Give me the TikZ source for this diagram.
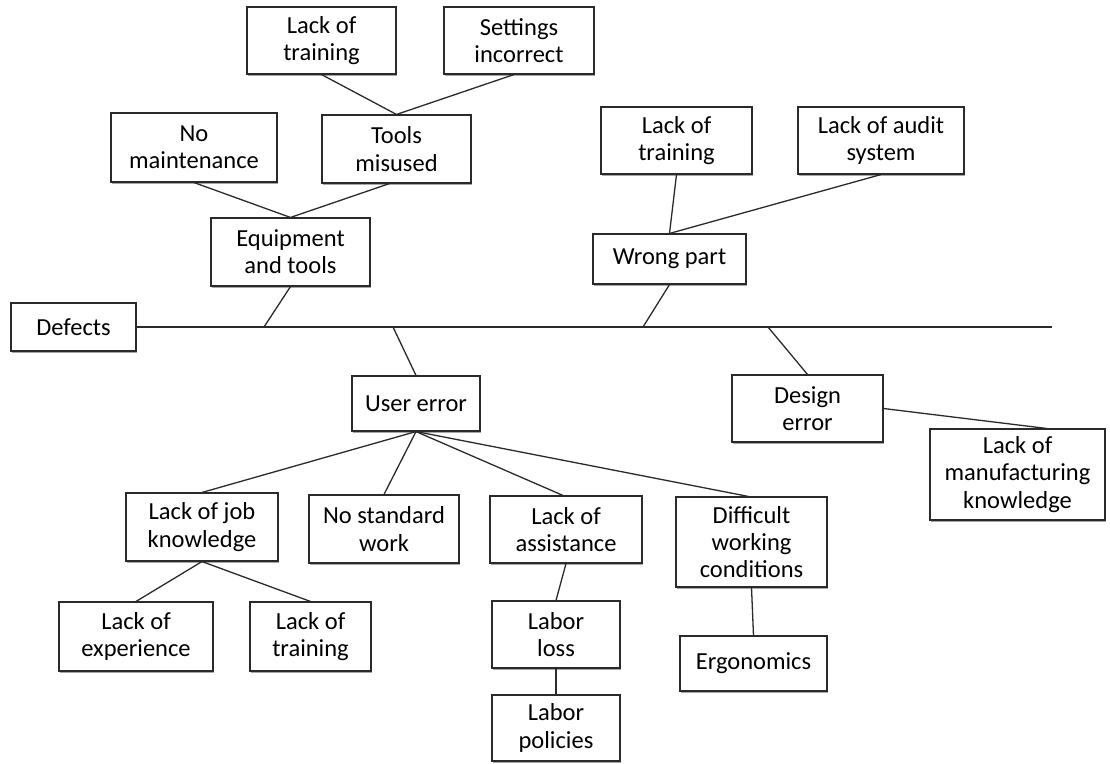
\documentclass[tikz,border=0pt]{standalone}
\usepackage{fontspec}
\setmainfont{Carlito}
\usetikzlibrary{shadows}
\definecolor{ink}{HTML}{2A2A2A}
\tikzset{
  box/.style={draw=ink, line width=1.1pt, fill=white, align=center, inner sep=1pt,
    font=\fontsize{24.5}{27.2}\selectfont,
    drop shadow={shadow xshift=0.8pt, shadow yshift=-1.6pt, opacity=0.35, fill=black}},
  conn/.style={draw=ink, line width=1.3pt},
}
\newcommand{\bx}[6]{\node[box, minimum width=#4pt, minimum height=#5pt] (#1) at (#2,#3) {#6};}
\begin{document}
\begin{tikzpicture}[x=1pt,y=-1pt]
\useasboundingbox (0,0) rectangle (1110,763);
% top-left branch
\bx{LTa}{321.5}{40.5}{149}{67}{Lack of\\training}
\bx{SI}{519}{40.5}{150}{67}{Settings\\incorrect}
\bx{NM}{194}{147.5}{166}{69}{No\\maintenance}
\bx{TM}{396.5}{149}{149}{68}{Tools\\misused}
\bx{EQ}{290.5}{252}{159}{68}{Equipment\\and tools}
\bx{DEF}{73.5}{327}{125}{48}{Defects}
% top-right branch
\bx{LTb}{676.5}{140.5}{151}{67}{Lack of\\training}
\bx{LA}{881}{140.5}{166}{67}{Lack of audit\\system}
\bx{WP}{669.5}{259}{153}{50}{Wrong part}
% lower branches
\bx{UE}{416}{403.5}{128}{55}{User error}
\bx{DE}{807.5}{408.5}{151}{67}{Design\\error}
\bx{LMK}{1017.5}{474.5}{175}{91}{Lack of\\manufacturing\\knowledge}
\bx{LJK}{202}{527}{152}{68}{Lack of job\\knowledge}
\bx{NSW}{384}{529}{150}{68}{No standard\\work}
\bx{LAS}{566}{529.5}{152}{67}{Lack of\\assistance}
\bx{DWC}{751.5}{542}{151}{90}{Difficult\\working\\conditions}
\bx{LE}{136}{636.5}{154}{69}{Lack of\\experience}
\bx{LTc}{310.5}{636.5}{121}{69}{Lack of\\training}
\bx{LL}{556}{634.5}{128}{67}{Labor\\loss}
\bx{LP}{556}{728}{128}{66}{Labor\\policies}
\bx{ERG}{753.5}{663.5}{147}{55}{Ergonomics}
% spine coordinates
\coordinate (spEnd) at (1052,327);
\coordinate (sEQ) at (264,327);
\coordinate (sUE) at (393,327);
\coordinate (sWP) at (643,327);
\coordinate (sDE) at (768,327);
% connectors
\draw[conn] (DEF.east) -- (spEnd);
\draw[conn] (LTa.south) -- (TM.north);
\draw[conn] ([xshift=-5pt]SI.south) -- (TM.north);
\draw[conn] (NM.south) -- (EQ.north);
\draw[conn] ([xshift=-7pt]TM.south) -- (EQ.north);
\draw[conn] (EQ.south) -- (sEQ);
\draw[conn] (LTb.south) -- (WP.north);
\draw[conn] (LA.south) -- (WP.north);
\draw[conn] (WP.south) -- (sWP);
\draw[conn] (sUE) -- (UE.north);
\draw[conn] (sDE) -- (DE.north);
\draw[conn] (DE.east) -- ([xshift=29pt]LMK.north);
\draw[conn] (UE.south) -- (LJK.north);
\draw[conn] (UE.south) -- (NSW.north);
\draw[conn] (UE.south) -- ([xshift=-3pt]LAS.north);
\draw[conn] (UE.south) -- ([xshift=-3pt]DWC.north);
\draw[conn] (LJK.south) -- (LE.north);
\draw[conn] (LJK.south) -- (LTc.north);
\draw[conn] (LAS.south) -- (LL.north);
\draw[conn] (LL.south) -- (LP.north);
\draw[conn] (DWC.south) -- (ERG.north);
\end{tikzpicture}
\end{document}
